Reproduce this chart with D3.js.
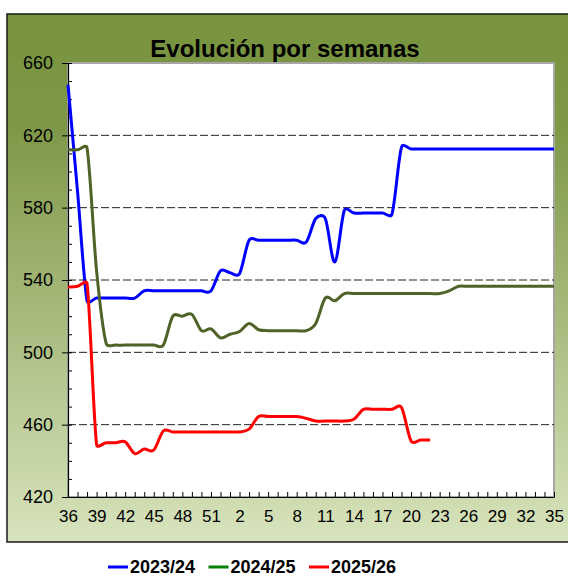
<!DOCTYPE html>
<html>
<head>
<meta charset="utf-8">
<script src="https://cdn.jsdelivr.net/npm/d3@7"></script>
<style>
  body { margin: 0; background: #ffffff; }
  svg { display: block; font-family: "Liberation Sans", Arial, sans-serif; }
</style>
</head>
<body>
<svg id="chart"></svg>
<script>
// Weeks of the campaign (36 .. 52, then 1 .. 35)
var weeks = [36, 37, 38, 39, 40, 41, 42, 43, 44, 45, 46, 47, 48, 49, 50, 51, 52,
    1, 2, 3, 4, 5, 6, 7, 8, 9, 10, 11, 12, 13, 14, 15, 16, 17, 18, 19, 20,
    21, 22, 23, 24, 25, 26, 27, 28, 29, 30, 31, 32, 33, 34, 35];
var weekLabels = [36, 39, 42, 45, 48, 51, 2, 5, 8, 11, 14, 17, 20, 23, 26, 29, 32, 35];
var yTicks = [420, 460, 500, 540, 580, 620, 660];
var seriesNames = ['2023/24', '2024/25', '2025/26'];

var s2023 = [648, 589, 528.5, 530, 530, 530, 530, 530, 534, 534, 534, 534, 534, 534, 534, 534, 545,
    544, 543.5, 562, 562, 562, 562, 562, 562, 561, 574, 574, 550, 578.5, 577, 577, 577, 577, 576.5, 613.5,
    612.5, 612.5, 612.5, 612.5, 612.5, 612.5, 612.5, 612.5, 612.5, 612.5, 612.5, 612.5, 612.5, 612.5, 612.5, 612.5];
var s2024 = [612, 612, 613, 545, 505, 504, 504, 504, 504, 504, 504, 520, 520, 521, 512, 513, 508,
    510, 511.5, 516, 512.5, 512, 512, 512, 512, 512, 516, 530, 528.5, 532.5, 532.5, 532.5, 532.5, 532.5, 532.5, 532.5,
    532.5, 532.5, 532.5, 532.5, 534, 536.5, 536.5, 536.5, 536.5, 536.5, 536.5, 536.5, 536.5, 536.5, 536.5, 536.5];
var s2025 = [536, 536.5, 538, 449, 450, 450, 450.5, 444, 446.5, 446, 456.5, 456, 456, 456, 456, 456, 456,
    456, 456, 457.5, 464.5, 464.5, 464.5, 464.5, 464.5, 463.5, 462, 462, 462, 462, 463, 468.5, 468.5, 468.5, 468.5, 469.5,
    451, 451.5, 451.5];

var lineColors = ['#0000ff', '#4f6228', '#ff0000'];
var legendColors = ['#0000ff', '#008000', '#ff0000'];

var width = 568, height = 576;
var plot = {left: 68, right: 554, top: 63, bottom: 497};

var svg = d3.select("#chart")
    .attr("width", width)
    .attr("height", height);

// background gradient of the chart frame
var grad = svg.append("defs").append("linearGradient")
    .attr("id", "bg")
    .attr("x1", 0).attr("y1", 0).attr("x2", 0).attr("y2", 1);
grad.append("stop").attr("offset", "0%").attr("stop-color", "#77933c");
grad.append("stop").attr("offset", "22%").attr("stop-color", "#7f9848");
grad.append("stop").attr("offset", "100%").attr("stop-color", "#d8e4bd");

svg.append("rect")
    .attr("x", 7).attr("y", 14)
    .attr("width", 580).attr("height", 528)
    .attr("fill", "url(#bg)")
    .attr("stroke", "#1a1a1a")
    .attr("stroke-width", 1.5);

svg.append("text")
    .attr("x", 285).attr("y", 57)
    .attr("text-anchor", "middle")
    .style("font-size", "24px")
    .style("font-weight", "bold")
    .text("Evolución por semanas");

// plot area
svg.append("rect")
    .attr("x", plot.left).attr("y", plot.top)
    .attr("width", plot.right - plot.left).attr("height", plot.bottom - plot.top)
    .attr("fill", "#ffffff")
    .attr("stroke", "#a6a6a6")
    .attr("stroke-width", 2);

var x = d3.scalePoint()
    .domain(weeks)
    .range([plot.left, plot.right]);
var y = d3.scaleLinear()
    .domain([420, 660])
    .range([plot.bottom, plot.top]);

// dashed grid lines
svg.append("g")
    .selectAll("line")
    .data(yTicks.filter(function (d) {return d > 420 && d < 660;}))
    .enter().append("line")
    .attr("x1", plot.left).attr("x2", plot.right)
    .attr("y1", function (d) {return y(d);})
    .attr("y2", function (d) {return y(d);})
    .attr("stroke", "#222")
    .attr("stroke-width", 1)
    .attr("stroke-dasharray", "8,3");

// minor y ticks (inside)
svg.append("g")
    .attr("transform", "translate(" + plot.left + ",0)")
    .call(d3.axisLeft(y).ticks(24).tickSizeInner(-4).tickSizeOuter(0).tickFormat(""))
    .call(function (g) {g.select(".domain").remove();})
    .selectAll("line").attr("stroke", "#000");

// y axis
var yAxis = svg.append("g")
    .attr("transform", "translate(" + plot.left + ",0)")
    .call(d3.axisLeft(y).tickValues(yTicks).tickSizeInner(6).tickSizeOuter(0).tickPadding(9));
yAxis.selectAll("text")
    .style("font-size", "18px")
    .style("font-family", "'Liberation Sans', Arial, sans-serif")
    .attr("fill", "#000");
yAxis.select(".domain").attr("stroke", "#000").attr("stroke-width", 1.2);

// x axis, a tick for every week, labels every third
var xAxis = svg.append("g")
    .attr("transform", "translate(0," + plot.bottom + ")")
    .call(d3.axisBottom(x).tickSizeInner(-5).tickSizeOuter(0).tickPadding(13)
        .tickFormat(function (d) {return weekLabels.includes(d) ? d : "";}));
xAxis.selectAll("text")
    .style("font-size", "17px")
    .style("font-family", "'Liberation Sans', Arial, sans-serif")
    .attr("fill", "#000");
xAxis.select(".domain").attr("stroke", "#000").attr("stroke-width", 1.2);

// Spreadsheet-like smoothing: bezier with catmull-rom tangents (1/6),
// tangent length capped to half of the segment so big jumps don't overshoot.
function smoothPath(pts)
{
    var p = d3.path();
    p.moveTo(pts[0][0], pts[0][1]);
    for (var i = 0; i < pts.length - 1; i++)
    {
        var p0 = pts[Math.max(i - 1, 0)], p1 = pts[i], p2 = pts[i + 1], p3 = pts[Math.min(i + 2, pts.length - 1)];
        var cap = Math.hypot(p2[0] - p1[0], p2[1] - p1[1]) / 2;
        var t1 = [(p2[0] - p0[0]) / 6, (p2[1] - p0[1]) / 6];
        var t2 = [(p3[0] - p1[0]) / 6, (p3[1] - p1[1]) / 6];
        var l1 = Math.hypot(t1[0], t1[1]), l2 = Math.hypot(t2[0], t2[1]);
        if (l1 > cap) { t1 = [t1[0] * cap / l1, t1[1] * cap / l1]; }
        if (l2 > cap) { t2 = [t2[0] * cap / l2, t2[1] * cap / l2]; }
        p.bezierCurveTo(p1[0] + t1[0], p1[1] + t1[1], p2[0] - t2[0], p2[1] - t2[1], p2[0], p2[1]);
    }
    return p.toString();
}

var series = [s2023, s2024, s2025];

svg.append("g")
    .selectAll("path")
    .data(series)
    .enter().append("path")
    .attr("d", function (d)
    {
        return smoothPath(d.map(function (v, i) {return [x(weeks[i]), y(v)];}));
    })
    .attr("fill", "none")
    .attr("stroke", function (d, i) {return lineColors[i];})
    .attr("stroke-width", 3)
    .attr("stroke-linejoin", "round");

// legend
var legend = svg.append("g")
    .selectAll("g")
    .data(seriesNames)
    .enter().append("g")
    .attr("transform", function (d, i) {return "translate(" + (108 + i * 100.5) + ",0)";});
legend.append("line")
    .attr("x1", 0).attr("x2", 20)
    .attr("y1", 567).attr("y2", 567)
    .attr("stroke", function (d, i) {return legendColors[i];})
    .attr("stroke-width", 3);
legend.append("text")
    .attr("x", 22).attr("y", 572.5)
    .style("font-size", "18px")
    .style("font-weight", "bold")
    .text(function (d) {return d;});
</script>
</body>
</html>
